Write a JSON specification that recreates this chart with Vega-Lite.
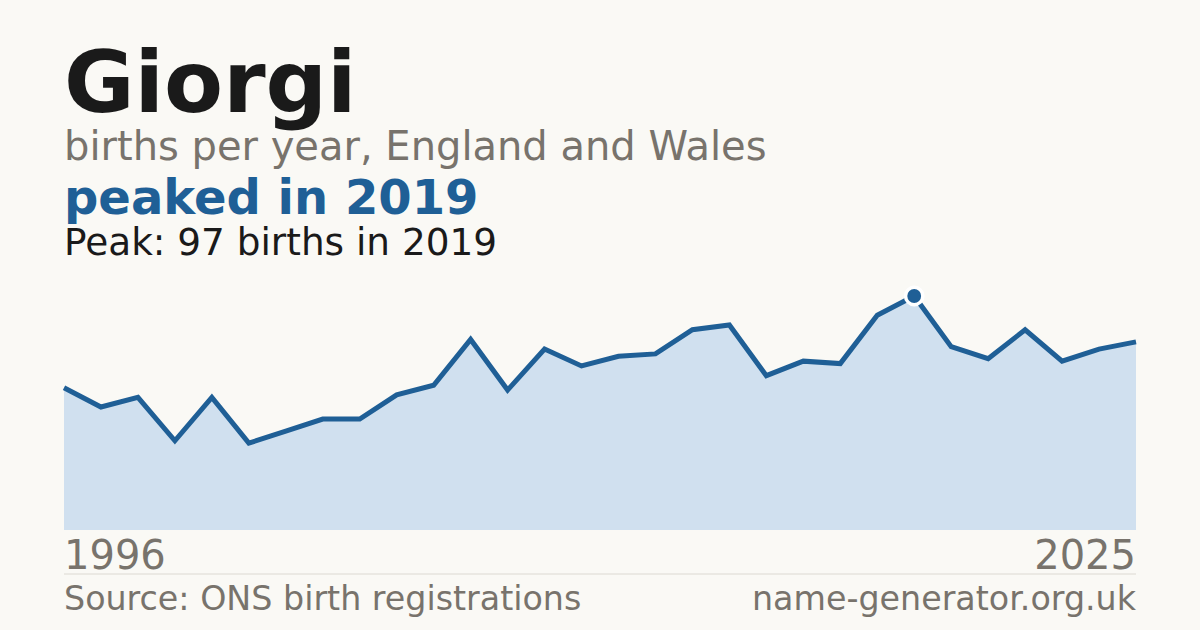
{
  "$schema": "https://vega.github.io/schema/vega-lite/v6.json",
  "description": "Giorgi - births per year, England and Wales (1996 - 2025)",
  "width": 1200,
  "height": 630,
  "autosize": {"type": "fit", "contains": "padding"},
  "padding": 0,
  "background": "#faf9f5",
  "datasets": {
    "births": [
      {"year": 1996, "births": 59},
      {"year": 1997, "births": 51},
      {"year": 1998, "births": 55},
      {"year": 1999, "births": 37},
      {"year": 2000, "births": 55},
      {"year": 2001, "births": 36},
      {"year": 2002, "births": 41},
      {"year": 2003, "births": 46},
      {"year": 2004, "births": 46},
      {"year": 2005, "births": 56},
      {"year": 2006, "births": 60},
      {"year": 2007, "births": 79},
      {"year": 2008, "births": 58},
      {"year": 2009, "births": 75},
      {"year": 2010, "births": 68},
      {"year": 2011, "births": 72},
      {"year": 2012, "births": 73},
      {"year": 2013, "births": 83},
      {"year": 2014, "births": 85},
      {"year": 2015, "births": 64},
      {"year": 2016, "births": 70},
      {"year": 2017, "births": 69},
      {"year": 2018, "births": 89},
      {"year": 2019, "births": 97},
      {"year": 2020, "births": 76},
      {"year": 2021, "births": 71},
      {"year": 2022, "births": 83},
      {"year": 2023, "births": 70},
      {"year": 2024, "births": 75},
      {"year": 2025, "births": 78}
    ]
  },
  "layer": [
    {
      "data": {"name": "births"},
      "mark": {"type": "area", "color": "#d0e0ef"},
      "encoding": {
        "x": {"field": "year", "type": "quantitative",
              "scale": {"domain": [1994.2687, 2026.7313], "nice": false, "zero": false},
              "axis": null},
        "y": {"field": "births", "type": "quantitative",
              "scale": {"domain": [-41.45, 219.7], "nice": false, "zero": false},
              "axis": null},
        "y2": {"datum": 0}
      }
    },
    {
      "data": {"name": "births"},
      "mark": {"type": "line", "color": "#1f5f96", "strokeWidth": 5},
      "encoding": {
        "x": {"field": "year", "type": "quantitative"},
        "y": {"field": "births", "type": "quantitative"}
      }
    },
    {
      "data": {"name": "births"},
      "transform": [{"filter": "datum.year == 2019"}],
      "mark": {"type": "circle", "size": 300, "fill": "#1f5f96", "opacity": 1, "stroke": "#ffffff", "strokeWidth": 3.5},
      "encoding": {
        "x": {"field": "year", "type": "quantitative"},
        "y": {"field": "births", "type": "quantitative"}
      }
    },
    {
      "data": {"values": [{"label": "Giorgi"}]},
      "mark": {"type": "text", "align": "left", "font": "DejaVu Sans", "fontSize": 86, "fontWeight": "bold", "color": "#1a1a1a"},
      "encoding": {"x": {"datum": 1996}, "y": {"datum": 173.27}, "text": {"field": "label"}}
    },
    {
      "data": {"values": [{"label": "births per year, England and Wales"}]},
      "mark": {"type": "text", "align": "left", "font": "DejaVu Sans", "fontSize": 40, "color": "#78736c"},
      "encoding": {"x": {"datum": 1996}, "y": {"datum": 153.38}, "text": {"field": "label"}}
    },
    {
      "data": {"values": [{"label": "peaked in 2019"}]},
      "mark": {"type": "text", "align": "left", "font": "DejaVu Sans", "fontSize": 48, "fontWeight": "bold", "color": "#1f5f96"},
      "encoding": {"x": {"datum": 1996}, "y": {"datum": 130.99}, "text": {"field": "label"}}
    },
    {
      "data": {"values": [{"label": "Peak: 97 births in 2019"}]},
      "mark": {"type": "text", "align": "left", "font": "DejaVu Sans", "fontSize": 37.4, "color": "#1a1a1a"},
      "encoding": {"x": {"datum": 1996}, "y": {"datum": 114.0}, "text": {"field": "label"}}
    },
    {
      "data": {"values": [{"label": "1996"}]},
      "mark": {"type": "text", "align": "left", "font": "DejaVu Sans", "fontSize": 40, "color": "#78736c"},
      "encoding": {"x": {"datum": 1996}, "y": {"datum": -16.17}, "text": {"field": "label"}}
    },
    {
      "data": {"values": [{"label": "2025"}]},
      "mark": {"type": "text", "align": "right", "font": "DejaVu Sans", "fontSize": 40, "color": "#78736c"},
      "encoding": {"x": {"datum": 2025}, "y": {"datum": -16.17}, "text": {"field": "label"}}
    },
    {
      "data": {"values": [{}]},
      "mark": {"type": "rule", "color": "#dcd9d2", "strokeWidth": 1},
      "encoding": {"x": {"datum": 1996}, "x2": {"datum": 2025}, "y": {"datum": -18.24}}
    },
    {
      "data": {"values": [{"label": "Source: ONS birth registrations"}]},
      "mark": {"type": "text", "align": "left", "font": "DejaVu Sans", "fontSize": 33.3, "color": "#78736c"},
      "encoding": {"x": {"datum": 1996}, "y": {"datum": -33.16}, "text": {"field": "label"}}
    },
    {
      "data": {"values": [{"label": "name-generator.org.uk"}]},
      "mark": {"type": "text", "align": "right", "font": "DejaVu Sans", "fontSize": 33.3, "color": "#78736c"},
      "encoding": {"x": {"datum": 2025}, "y": {"datum": -33.16}, "text": {"field": "label"}}
    }
  ],
  "config": {
    "view": {"stroke": null},
    "text": {"baseline": "alphabetic"}
  }
}
